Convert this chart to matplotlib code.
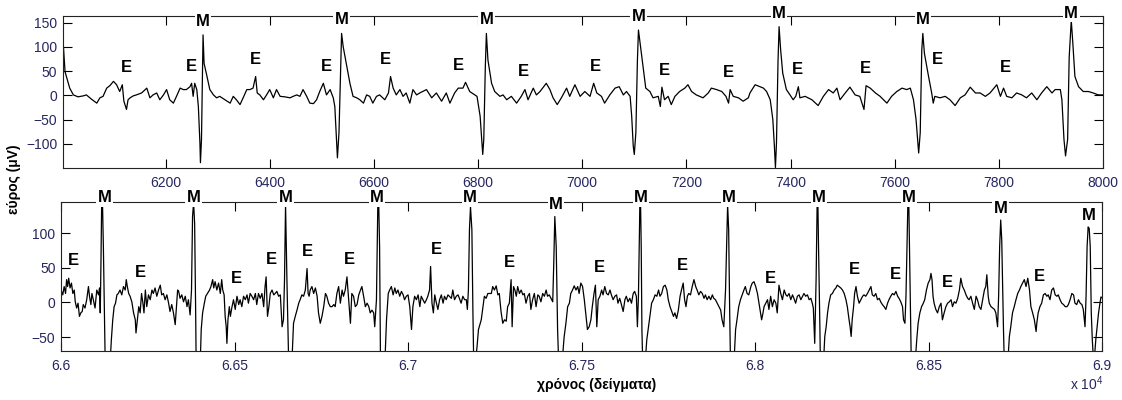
import matplotlib
matplotlib.use('Agg')
import matplotlib.pyplot as plt
from matplotlib.ticker import FuncFormatter
import numpy as np

plt.rcParams['font.family'] = ['Liberation Sans', 'DejaVu Sans']
plt.rcParams['mathtext.default'] = 'regular'

# --- top record: samples 6000-8000 (sample index, amplitude in uV) ---
top_t = np.array([
    6004, 6007, 6016, 6023, 6032, 6042, 6048, 6058, 6068, 6074,
    6080, 6087, 6093, 6100, 6106, 6112, 6117, 6120, 6125, 6128,
    6132, 6138, 6144, 6154, 6164, 6170, 6176, 6183, 6189, 6196,
    6202, 6208, 6215, 6221, 6228, 6234, 6240, 6247, 6250, 6253,
    6256, 6260, 6263, 6266, 6267, 6269, 6272, 6274, 6279, 6285,
    6292, 6298, 6304, 6314, 6324, 6330, 6336, 6343, 6349, 6356,
    6362, 6368, 6373, 6376, 6381, 6388, 6394, 6400, 6407, 6413,
    6420, 6429, 6439, 6445, 6452, 6458, 6464, 6471, 6477, 6484,
    6490, 6496, 6503, 6509, 6516, 6522, 6525, 6528, 6530, 6533,
    6538, 6541, 6548, 6554, 6560, 6567, 6573, 6580, 6586, 6592,
    6598, 6605, 6611, 6621, 6628, 6632, 6637, 6643, 6650, 6656,
    6662, 6669, 6675, 6682, 6688, 6701, 6711, 6720, 6730, 6739,
    6746, 6755, 6762, 6771, 6776, 6784, 6794, 6798, 6804, 6807,
    6809, 6811, 6814, 6816, 6819, 6826, 6832, 6842, 6848, 6855,
    6864, 6874, 6883, 6890, 6896, 6906, 6912, 6919, 6931, 6938,
    6944, 6952, 6960, 6970, 6976, 6986, 6996, 7005, 7015, 7022,
    7028, 7037, 7043, 7053, 7063, 7071, 7079, 7085, 7092, 7095,
    7098, 7100, 7103, 7106, 7108, 7112, 7117, 7122, 7130, 7136,
    7146, 7150, 7153, 7158, 7165, 7171, 7178, 7187, 7197, 7203,
    7210, 7219, 7232, 7242, 7248, 7258, 7268, 7276, 7281, 7284,
    7290, 7300, 7309, 7319,
    7322, 7332, 7341, 7348, 7354, 7361, 7366, 7369, 7371, 7373,
    7376, 7378, 7381, 7385, 7392, 7399, 7405, 7410, 7415, 7418,
    7428, 7441, 7453, 7463, 7473, 7482, 7489, 7495, 7505, 7514,
    7524, 7533, 7541, 7545, 7553, 7563, 7572, 7585, 7594, 7604,
    7614, 7623, 7630, 7636, 7641, 7646, 7649, 7652, 7654, 7657,
    7665, 7671, 7674, 7677, 7687, 7697, 7706, 7716, 7726, 7735,
    7745, 7755, 7764, 7774, 7783, 7796, 7803, 7809, 7815, 7825,
    7834, 7844, 7853, 7863, 7873, 7882, 7892, 7902, 7908, 7918,
    7921, 7925, 7928, 7932, 7935, 7939, 7942, 7946, 7953, 7962,
    7972, 7981, 7991, 8000,
])
top_v = np.array([
    100, 49, 15, 1, -3, -1, 1, -8, -16, -5,
    -2, 15, 20, 29, 22, 8, 22, -12, -29, -9,
    -5, -1, 1, 5, 15, -5, 1, 5, -9, 1,
    12, -9, -16, -2, 15, 12, 12, 18, 25, -2,
    25, 12, -23, -98, -139, -91, 125, 66, 42, 12,
    1, -5, -2, -9, -16, -2, -9, -19, -5, 12,
    12, 15, 39, 5, 1, -9, 1, 12, -5, 12,
    -2, -3, -5, -2, 1, -2, 12, -2, -16, -17,
    -9, 8, 25, 1, 12, -5, -23, -84, -129, -77,
    128, 101, 60, 25, -2, -5, -9, -16, 1, -2,
    -16, -2, 1, -9, 5, 39, 15, 1, 12, -2,
    5, -16, 12, 1, 5, 12, -5, 5, -12, 5,
    -16, 5, 15, 15, 27, 8, 1, -2, -43, -91,
    -122, -91, 60, 128, 73, 25, 8, -2, 1, -9,
    -2, -16, -2, 12, -9, 15, 1, 8, 25, 12,
    -5, -19, -5, 15, -2, 22, -2, 8, -2, 25,
    5, -2, -16, 1, 15, 18, 1, 8, -2, -43,
    -105, -122, -77, 73, 135, 101, 60, 15, 8, -5,
    -2, -23, 17, -9, -2, -19, -2, 8, 15, 22,
    8, 1, -5, 5, 15, 12, 8, -2, -16, 12,
    -2, -5, -12, -5,
    5, 22, 18, 15, 8, -9, -50, -105, -149, -98,
    73, 142, 94, 46, 12, 1, -9, -2, 18, -5,
    -2, -9, -21, -2, 12, 5, 15, -9, 5, 17,
    1, -2, -29, 20, 15, 5, -2, -16, -2, 8,
    15, 12, 15, -9, -50, -119, -77, 94, 128, 87,
    39, 5, -16, -2, -5, -2, -9, -21, -5, 1,
    17, 5, 5, -2, 5, 22, -2, 15, -2, -5,
    5, 1, -5, 5, -9, 5, 18, 5, 12, 12,
    -9, -91, -125, -91, 79, 155, 108, 39, 18, 8,
    8, 5, 1, 1,
])
top_m = [6272, 6538, 6816, 7108, 7378, 7654, 7939]
top_e = [6125, 6250, 6372, 6509, 6623, 6762, 6888, 7026, 7158, 7281,
         7413, 7544, 7682, 7813]

# --- bottom record: samples 66000-69000 ---
bot_t = np.array([
    66000, 66005, 66009, 66013, 66016, 66019, 66022, 66026, 66030, 66034,
    66038, 66041, 66045, 66049, 66053, 66057, 66061, 66064, 66069, 66074,
    66079, 66082, 66086, 66089, 66093, 66098, 66103, 66108, 66111, 66113,
    66115, 66118, 66122, 66125, 66128, 66141, 66145, 66149, 66153, 66157,
    66161, 66165, 66170, 66175, 66180, 66185, 66188, 66191, 66195, 66199,
    66204, 66209, 66214, 66216, 66220, 66224, 66228, 66232, 66236, 66239,
    66243, 66247, 66252, 66257, 66262, 66266, 66271, 66276, 66281, 66286,
    66290, 66295, 66300, 66305, 66310, 66314, 66319, 66324, 66329, 66332,
    66336, 66339, 66343, 66348, 66353, 66358, 66363, 66367, 66372, 66376,
    66379, 66382, 66385, 66388, 66390, 66401, 66404, 66408, 66413, 66417,
    66422, 66428, 66432, 66437, 66440, 66444, 66449, 66454, 66459, 66463,
    66466, 66470, 66473, 66476, 66478, 66481, 66485, 66488, 66492, 66497,
    66502, 66507, 66512, 66516, 66521, 66526, 66531, 66536, 66540, 66545,
    66550, 66555, 66560, 66564, 66569, 66574, 66579, 66584, 66588, 66591,
    66595, 66599, 66603, 66608, 66613, 66617, 66622, 66627, 66632, 66637,
    66641, 66644, 66647, 66651, 66655, 66657, 66665, 66670, 66675, 66680,
    66685, 66689, 66694, 66699, 66704, 66709, 66712, 66715, 66718, 66723,
    66728, 66733, 66738, 66742, 66747, 66752, 66757, 66762, 66766, 66771,
    66776, 66781, 66786, 66790, 66795, 66800, 66805, 66810, 66814, 66819,
    66824, 66829, 66834, 66838, 66843, 66848, 66853, 66858, 66863, 66867,
    66872, 66877, 66882, 66887, 66891, 66896, 66901, 66904, 66909, 66912,
    66914, 66918, 66921, 66933, 66938, 66943, 66947, 66952, 66957, 66962,
    66966, 66971, 66976, 66981, 66986, 66990, 66995, 67000, 67005, 67010,
    67014, 67019, 67024, 67029, 67034, 67038, 67048, 67053, 67057, 67062,
    67065, 67069, 67073, 67077, 67081, 67086, 67091, 67096, 67101, 67105,
    67110, 67115, 67125, 67129, 67134, 67139, 67144, 67148, 67153, 67158,
    67163, 67168, 67171, 67174, 67177, 67180, 67184, 67187, 67190, 67199,
    67203, 67211, 67216, 67220, 67225, 67230, 67240, 67244, 67249, 67254,
    67259, 67263, 67268, 67273, 67278, 67283, 67287, 67292, 67297, 67300,
    67304, 67308, 67312, 67316, 67321, 67326, 67331, 67335, 67340, 67345,
    67350, 67354, 67359, 67364, 67369, 67374, 67378, 67383, 67388, 67393,
    67398, 67402, 67407, 67412, 67417, 67420, 67423, 67427, 67431, 67435,
    67445, 67450, 67455, 67460, 67465, 67469, 67474, 67479, 67484, 67489,
    67493, 67498, 67503, 67508, 67512, 67517, 67522, 67527, 67531, 67536,
    67540, 67544, 67548, 67553, 67558, 67562, 67567, 67572, 67577, 67582,
    67586, 67591, 67596, 67601, 67605, 67610, 67615, 67620, 67625, 67629,
    67634, 67639, 67644, 67649, 67653, 67658, 67661, 67664, 67667, 67669,
    67672, 67674, 67677, 67683, 67688, 67693, 67698, 67702, 67707, 67712,
    67717, 67722, 67726, 67731, 67736, 67741, 67746, 67750, 67755, 67760,
    67765, 67769, 67774, 67779, 67784, 67788, 67793, 67797, 67801, 67805,
    67809, 67814, 67819, 67824, 67829, 67833, 67838, 67843, 67848, 67853,
    67857, 67862, 67867, 67872, 67877, 67881, 67886, 67891, 67896, 67901,
    67905, 67910, 67915, 67918, 67921, 67924, 67927, 67930, 67939, 67944,
    67948, 67953, 67958, 67963, 67968, 67972, 67977, 67982, 67988, 67992,
    67997, 68002, 68007, 68012, 68016, 68019, 68023, 68026, 68031, 68036,
    68040, 68045, 68050, 68055, 68060, 68064, 68069, 68074, 68079, 68084,
    68089, 68093, 68098, 68103, 68108, 68112, 68117, 68122, 68127, 68132,
    68137, 68141, 68146, 68151, 68156, 68161, 68165, 68168, 68172, 68176,
    68178, 68180, 68183, 68187, 68189, 68197, 68201, 68205, 68209, 68213,
    68218, 68223, 68228, 68233, 68237, 68242, 68247, 68252, 68257, 68262,
    68266, 68271, 68274, 68277, 68280, 68284, 68287, 68291, 68295, 68300,
    68305, 68310, 68314, 68319, 68324, 68329, 68334, 68338, 68343, 68348,
    68353, 68358, 68362, 68367, 68372, 68377, 68382, 68386, 68391, 68396,
    68401, 68406, 68411, 68415, 68420, 68425, 68428, 68432, 68435, 68439,
    68442, 68445, 68448, 68451, 68461, 68466, 68470, 68475, 68480, 68485,
    68489, 68494, 68499, 68504, 68507, 68510, 68513, 68516, 68521, 68526,
    68531, 68536, 68540, 68545, 68550, 68555, 68560, 68565, 68569, 68574,
    68579, 68584, 68589, 68593, 68598, 68603, 68608, 68613, 68617, 68622,
    68627, 68632, 68637, 68641, 68646, 68651, 68656, 68661, 68665, 68668,
    68672, 68675, 68680, 68685, 68690, 68694, 68699, 68702, 68705, 68708,
    68711, 68714, 68716, 68719, 68728, 68733, 68737, 68742, 68747, 68752,
    68757, 68762, 68766, 68771, 68776, 68781, 68786, 68791, 68795, 68800,
    68805, 68810, 68812, 68816, 68821, 68826, 68831, 68836, 68841, 68845,
    68850, 68855, 68860, 68865, 68870, 68874, 68879, 68884, 68889, 68894,
    68899, 68903, 68908, 68913, 68918, 68922, 68927, 68932, 68937, 68942,
    68946, 68951, 68954, 68957, 68960, 68963, 68966, 68969, 68972, 68975,
    68978, 68982, 68986, 68990, 68994, 68997, 69002,
])
bot_v = np.array([
    18, 11, 23, 13, 33, 23, 35, 21, 28, 13,
    18, 1, -8, -1, -20, -15, -13, -3, -8, 4,
    23, 9, -3, 13, 4, -8, 18, 11, 21, -15,
    56, 180, 81, -15, -110, -90, -54, -25, -6, -1,
    11, 13, 18, 11, 23, 18, 33, 23, 13, 9,
    1, -15, -25, -44, -25, -6, -15, 13, -1, -15,
    18, -6, 11, 4, 18, 13, 21, 9, 18, 25,
    11, 13, 4, 11, -1, -13, -3, -15, -32, -10,
    18, 16, 6, 11, 1, 9, -6, 4, -18, 18,
    124, 144, 114, -15, -120, -90, -39, -15, -1, 9,
    13, 18, 23, 33, 21, 30, 18, 28, 13, 33,
    18, 11, -20, -35, -59, -25, -6, -20, -8, 4,
    -10, 9, -3, 4, -6, 9, 4, 11, -1, 13,
    9, 4, 13, -3, 13, 6, 13, -6, 23, 37,
    -20, -6, 13, 18, 11, 13, 16, 9, 11, -35,
    -25, 32, 141, 32, -63, -110, -90, -30, -20, -11,
    -1, 4, 11, 9, 18, 49, 13, 9, 18, 23,
    13, 21, 9, -15, -30, -20, -6, 13, 9, -1,
    -6, -6, -3, -6, 13, 23, -1, 18, 9, 18,
    37, 4, -30, 13, 9, -6, -3, 11, 18, 23,
    9, -6, -1, -6, -15, -11, -15, -35, 4, 105,
    180, 81, -110, -90, -25, 13, 18, 23, 11, 21,
    13, 18, 9, 16, 11, 4, 9, 11, -6, -39,
    -6, 9, 4, 11, -6, 9, -1, 4, 9, 18,
    52, -1, -15, 11, 1, -10, 4, 11, -1, 9,
    4, 11, 6, 18, 4, 9, 11, 6, -1, 9,
    4, 4, -10, 18, 105, 138, 105, -15, -110, -63,
    -39, -25, -6, 9, 6, 13, 13, 23, 18, 24,
    11, 13, -13, -30, -25, -27, -6, -1, 33, -35,
    23, 18, 9, 23, 13, 18, 11, 13, -1, 9,
    13, -10, 4, 13, -6, 11, 9, 1, 13, 9,
    18, 9, 11, 6, 1, 57, 124, 81, -39, -100,
    -80, -49, -30, -6, -1, 13, 18, 24, 18, 23,
    13, 28, 23, 4, -15, -39, -35, -25, -6, 13,
    25, -35, 4, 9, 18, 11, 23, 13, 11, 18,
    11, 4, 9, 11, -1, 6, -3, -13, 4, 9,
    1, 6, -1, 13, 16, 9, -35, 9, 105, 180,
    81, -39, -100, -90, -54, -35, -15, -1, 4, 11,
    9, 18, 9, 13, 23, 25, 18, 4, -6, -13,
    -20, -15, -23, -11, 9, 18, 28, 4, -6, 9,
    13, 11, 23, 33, 23, 18, 11, 16, 13, 6,
    11, 4, 9, 4, 11, 6, 4, -1, -6, -11,
    -25, -35, 18, 81, 141, 105, -15, -110, -90, -39,
    -25, -6, 4, 11, 18, 23, 13, 11, 23, 28,
    30, 23, 13, -3, -15, -25, -15, -6, -1, 4,
    -10, 9, -6, 4, -1, -15, 25, 13, 4, 18,
    11, 9, 13, 4, 11, 6, -1, 9, 11, 4,
    9, 13, 9, 11, 4, 6, -1, -8, -59, 33,
    105, 180, 81, -39, -110, -90, -49, -35, -15, -1,
    11, 13, 18, 21, 25, 23, 21, 18, 13, 4,
    -6, -25, -35, -49, -25, -6, 13, 23, 9, -1,
    4, 9, 11, 9, 13, 18, 23, 11, 9, 13,
    4, 6, 1, -3, -6, -10, -1, 4, 9, 13,
    11, 16, 9, 6, 1, -6, -25, -30, 9, 105,
    180, 81, -15, -110, -90, -54, -30, -15, -6, -1,
    4, 18, 28, 33, 42, 33, 9, -1, -10, -15,
    -6, -1, -25, -15, -6, -1, 1, 4, -6, 1,
    -1, 6, 18, 35, 23, 18, 11, 6, 4, 9,
    -1, -10, 9, 4, -6, -10, 4, 18, 23, 40,
    9, -1, -6, -8, -10, -15, -35, 9, 81, 119,
    90, 9, -39, -100, -90, -49, -35, -15, -6, 4,
    13, 18, 23, 28, 33, 23, 35, 18, -6, -15,
    -25, -42, -30, -15, -6, -1, 11, 13, 9, 11,
    4, 18, 21, 11, 9, 11, 4, -1, -3, -6,
    -6, -3, 4, 13, 11, -1, -3, 4, -1, -3,
    -10, -35, 9, 81, 109, 107, 81, -15, -54, -80,
    -80, -54, -35, -15, -1, 8, 6,
])
bot_m = [66125, 66382, 66647, 66910, 67178, 67427, 67671, 67925, 68185,
         68444, 68707, 68963]
bot_e = [66036, 66230, 66505, 66605, 66710, 66832, 67081, 67292, 67553,
         67792, 68045, 68286, 68404, 68555, 68819]

tick_color = '#262660'


def peak_near(t, v, x, half):
    sel = (t >= x - half) & (t <= x + half)
    return v[sel].max()


def style(ax):
    ax.tick_params(direction='in', top=True, right=True, length=6.5, width=0.8,
                   labelsize=10, labelcolor=tick_color)
    ax.tick_params(axis='x', pad=6)
    ax.tick_params(axis='y', pad=4)
    for s in ax.spines.values():
        s.set_linewidth(0.8)
        s.set_color('#222222')


def label_beats(ax, t, v, m_list, e_list, m_off, m_cap, e_off):
    for x in m_list:
        y = min(peak_near(t, v, x, 10) + m_off, m_cap)
        ax.text(x, y, 'M', ha='center', va='center', fontsize=12, fontweight='bold',
                clip_on=False, zorder=5,
                bbox=dict(boxstyle='square,pad=0.08', fc='white', ec='none'))
    for x in e_list:
        y = peak_near(t, v, x, 20) + e_off
        ax.text(x, y, 'E', ha='center', va='center', fontsize=12, fontweight='bold', zorder=4)


fig = plt.figure(figsize=(11.22, 4.0), dpi=100)
ax1 = fig.add_axes([0.0561, 0.58, 0.927, 0.38])
ax2 = fig.add_axes([0.0544, 0.1225, 0.9278, 0.3725])

# top panel
ax1.plot(top_t, top_v, color='black', lw=0.9)
ax1.set_xlim(6003, 8000)
ax1.set_ylim(-150, 164)
ax1.set_xticks(np.arange(6200, 8001, 200))
ax1.set_yticks([-100, -50, 0, 50, 100, 150])
style(ax1)
label_beats(ax1, top_t, top_v, top_m, top_e, 28, 170, 35)

# bottom panel
ax2.plot(bot_t, bot_v, color='black', lw=0.9)
ax2.set_xlim(66000, 69000)
ax2.set_ylim(-70, 145)
ax2.set_xticks(np.arange(66000, 69001, 500))
ax2.set_yticks([-50, 0, 50, 100])
ax2.xaxis.set_major_formatter(FuncFormatter(lambda val, pos: f'{val / 1e4:g}'))
style(ax2)
label_beats(ax2, bot_t, bot_v, bot_m, bot_e, 17, 151, 25)

fig.text(14 / 1122, 1 - 179 / 400, 'εύρος (μV)', rotation=90, ha='center', va='center',
         fontsize=10, fontweight='bold')
fig.text(597 / 1122, 1 - 385 / 400, 'χρόνος (δείγματα)', ha='center', va='center',
         fontsize=10, fontweight='bold')
fig.text(1087 / 1122, 1 - 384 / 400, 'x 10$^4$', ha='center', va='center',
         fontsize=10, color=tick_color)

fig.savefig('out.png', dpi=100)
